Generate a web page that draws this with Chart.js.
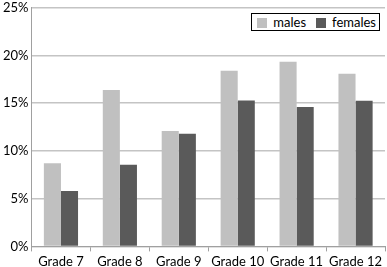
<!DOCTYPE html>
<html>
<head>
    <script src="https://cdn.jsdelivr.net/npm/chart.js"></script>
    <style>
        html, body { margin: 0; padding: 0; background: #fff; }
        .frame { position: relative; width: 387px; height: 267px; overflow: hidden; }
        .chart-container { position: absolute; left: 0; top: -3px; width: 387px; height: 270px; }
        #legend {
            position: absolute;
            top: 13px;
            right: 7px;
            border: 1px solid #000;
            background: #fff;
            font: 13px Lato, sans-serif;
            line-height: 16px;
            padding: 0 3px 0 5px;
            display: flex;
            gap: 10px;
        }
        #legend span.sw {
            display: inline-block;
            width: 10px;
            height: 10px;
            margin-right: 6px;
            vertical-align: -1px;
        }
    </style>
</head>
<body>
    <div class="frame">
        <div class="chart-container">
            <canvas id="chartjs"></canvas>
        </div>
        <div id="legend"></div>
    </div>

    <script>
        const grades = ['Grade 7', 'Grade 8', 'Grade 9', 'Grade 10', 'Grade 11', 'Grade 12'];
        const males = [8.7, 16.4, 12.1, 18.4, 19.35, 18.1];
        const females = [5.8, 8.55, 11.8, 15.3, 14.6, 15.25];
        const yTicks = [0, 5, 10, 15, 20, 25];
        const seriesColors = ['#c0c0c0', '#5a5a5a'];

        const ctx = document.getElementById('chartjs').getContext('2d');
        const chart = new Chart(ctx, {
            type: 'bar',
            data: {
                labels: grades,
                datasets: [{
                    label: 'males',
                    data: males,
                    backgroundColor: seriesColors[0],
                    borderWidth: 0
                },
                {
                    label: 'females',
                    data: females,
                    backgroundColor: seriesColors[1],
                    borderWidth: 0
                }]
            },
            options: {
                responsive: true,
                maintainAspectRatio: false,
                animation: false,
                devicePixelRatio: 1,
                categoryPercentage: 0.58,
                barPercentage: 1.0,
                layout: {
                    padding: { top: -10, right: 2, left: 0, bottom: -6 }
                },
                scales: {
                    x: {
                        grid: {
                            drawOnChartArea: false,
                            drawTicks: true,
                            tickLength: 5,
                            color: '#a0a0a0',
                            offset: true
                        },
                        border: { color: '#a0a0a0' },
                        ticks: {
                            color: '#000',
                            font: { family: 'Lato', size: 13 },
                            maxRotation: 0,
                            padding: 3
                        }
                    },
                    y: {
                        min: 0,
                        max: 25,
                        afterBuildTicks: (axis) => {
                            axis.ticks = yTicks.map(v => ({ value: v }));
                        },
                        grid: {
                            color: '#c4c4c4',
                            lineWidth: 1.5,
                            drawTicks: false
                        },
                        border: { color: '#a0a0a0' },
                        ticks: {
                            color: '#000',
                            font: { family: 'Lato', size: 13 },
                            padding: 3,
                            callback: (v) => v + '%'
                        }
                    }
                },
                plugins: {
                    tooltip: { enabled: false },
                    legend: { display: false }
                }
            }
        });

        // html legend inside the plot, built from the datasets
        const legendEl = document.getElementById('legend');
        chart.data.datasets.forEach(ds => {
            const item = document.createElement('div');
            item.innerHTML = '<span class="sw" style="background:' + ds.backgroundColor + '"></span>' + ds.label;
            legendEl.appendChild(item);
        });
    </script>
</body>
</html>
